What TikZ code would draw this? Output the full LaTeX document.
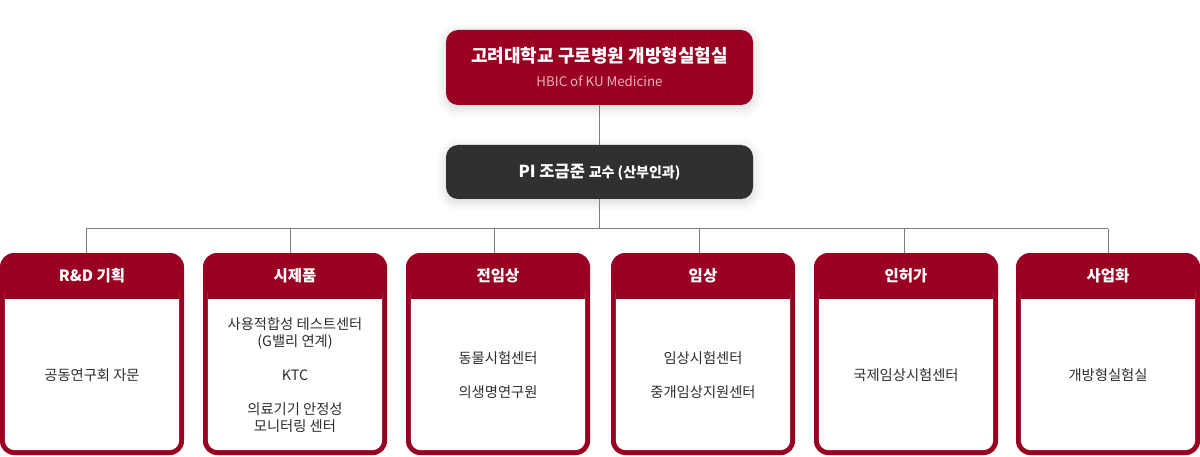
\documentclass[tikz,border=0pt]{standalone}
\usepackage{fontspec}
\setmainfont{Noto Sans CJK KR}
\usetikzlibrary{calc,shadows.blur}
\definecolor{kured}{RGB}{153,0,34}
\definecolor{kugray}{RGB}{48,48,48}
\definecolor{kuline}{RGB}{125,125,125}
\definecolor{kutext}{RGB}{45,45,45}
\definecolor{kusub}{RGB}{232,176,190}
\tikzset{
  topbox/.style={rectangle, rounded corners=12pt, minimum width=307pt, fill=#1, inner sep=0pt,
    blur shadow={shadow xshift=0pt, shadow yshift=-3pt, shadow opacity=18, shadow blur radius=10pt}},
  unitbox/.style={rectangle, rounded corners=14pt, minimum width=184pt, minimum height=202pt, fill=kured, inner sep=0pt},
  headtext/.style={text=white, font=\fontsize{15.5}{18}\selectfont\bfseries},
  bodytext/.style={text=kutext, align=center, font=\fontsize{14.3}{17}\selectfont},
  conn/.style={draw=kuline, line width=0.8pt},
}
\newcommand{\makeunit}[6]{%
  \node[unitbox] (#1) at (#2,102) {};
  \fill[white, rounded corners=10pt] ($(#1.south west)+(5,5)$) rectangle ($(#1.north east)+(-5,-30)$);
  \fill[kured] ($(#1.north west)+(5,-46)$) rectangle ($(#1.north east)+(-5,-25)$);
  \node[headtext] (#1h) at ($(#1.north)+(0,-23)$) {#3};
  \node[bodytext] (#1b) at ($(#1.center)+(0,-21)$) {#4};
  \draw[conn] ([xshift=#5pt]#1.north) -- ++(0,24) coordinate (#6);
}
\begin{document}
\begin{tikzpicture}[x=1pt,y=1pt]
\useasboundingbox (0,0) rectangle (1200,456);

\node[topbox=kured, minimum height=75pt] (top) at (599.5,388.5) {};
\node[text=white, font=\fontsize{18}{21}\selectfont\bfseries] (toptitle) at ($(top.center)+(0,12)$) {고려대학교 구로병원 개방형실험실};
\node[text=kusub, font=\fontsize{13.3}{15}\selectfont] (topsub) at ($(top.center)+(0,-14)$) {HBIC of KU Medicine};

\node[topbox=kugray, minimum height=54pt] (pi) at (599.5,284) {};
\node[text=white] (pitext) at (pi.center) {\fontsize{16.5}{19}\selectfont\bfseries PI 조금준 \fontsize{14}{16}\selectfont 교수 (산부인과)};

\draw[conn] (top.south) -- (pi.north);

\makeunit{b1}{92}{R\&D 기획}{공동연구회 자문}{-6}{c1}
\makeunit{b2}{295}{시제품}{사용적합성 테스트센터\\(G밸리 연계)\\[17pt]KTC\\[17pt]의료기기 안정성\\모니터링 센터}{-5}{c2}
\makeunit{b3}{498}{전임상}{동물시험센터\\[17pt]의생명연구원}{-4}{c3}
\makeunit{b4}{703}{임상}{임상시험센터\\[17pt]중개임상지원센터}{-4}{c4}
\makeunit{b5}{906}{인허가}{국제임상시험센터}{-2}{c5}
\makeunit{b6}{1108}{사업화}{개방형실험실}{0}{c6}

\draw[conn] (c1) -- (c6);
\draw[conn] (pi.south) -- (pi.south |- c1);
\end{tikzpicture}
\end{document}
